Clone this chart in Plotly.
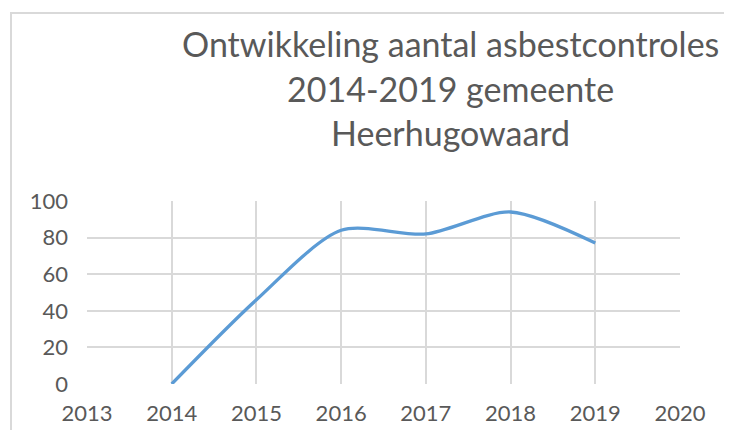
import plotly.graph_objects as go

years = [2014, 2015, 2016, 2017, 2018, 2019]
controles = [0, 46, 84, 82, 94, 77]
x_ticks = [2013, 2014, 2015, 2016, 2017, 2018, 2019, 2020]
y_ticks = [0, 20, 40, 60, 80, 100]
title_lines = ["Ontwikkeling aantal asbestcontroles", "2014-2019 gemeente", "Heerhugowaard"]

OFF = 8  # page body margin offset
W, H = 732, 430
ml, mt = 87 - OFF, 201 - OFF
pw, ph = 593, 185
mr = W - ml - pw
mb = H - mt - ph

def px_x(p):
    return (p - OFF - ml) / pw

def px_y(p):
    return (H - mb - (p - OFF)) / ph

FONT = "Lato, 'Open Sans', sans-serif"
GRAY = "#595959"

fig = go.Figure()
fig.add_trace(go.Scatter(
    x=years, y=controles, mode="lines",
    line=dict(color="#5B9BD5", width=3.3, shape="spline", smoothing=0.8),
    hoverinfo="x+y",
))

fig.update_layout(
    width=W, height=H,
    margin=dict(l=ml, r=mr, t=mt, b=mb),
    paper_bgcolor="white", plot_bgcolor="white",
    showlegend=False,
    font=dict(family=FONT, color=GRAY, size=22),
    xaxis=dict(range=[2013, 2020], tickvals=x_ticks, ticktext=[str(v) for v in x_ticks],
               showgrid=True, gridcolor="#d9d9d9", gridwidth=1.5,
               zeroline=False, showline=False, ticks="",
               ticklabelstandoff=14,
               tickfont=dict(size=22, color=GRAY, family=FONT)),
    yaxis=dict(range=[0, 100], tickvals=y_ticks,
               showgrid=True, gridcolor="#d9d9d9", gridwidth=1.5,
               zeroline=False, showline=False, ticks="",
               ticklabelstandoff=18,
               tickfont=dict(size=22, color=GRAY, family=FONT)),
)

for i, t in enumerate(title_lines):
    fig.add_annotation(
        text=t, xref="paper", yref="paper",
        x=px_x(450), y=px_y(42 + i * 45),
        xanchor="center", yanchor="middle", showarrow=False,
        font=dict(size=34, color=GRAY, family=FONT),
    )

# outer chart border and left dark strip
fig.add_shape(type="rect", xref="paper", yref="paper",
              x0=px_x(11), x1=px_x(800), y0=px_y(11), y1=px_y(500),
              line=dict(color="#d9d9d9", width=2), fillcolor="rgba(0,0,0,0)", layer="below")
fig.add_shape(type="rect", xref="paper", yref="paper",
              x0=px_x(-20), x1=px_x(3), y0=px_y(-20), y1=px_y(500),
              line=dict(width=0), fillcolor="black", layer="above")

fig.write_html("out.html")
